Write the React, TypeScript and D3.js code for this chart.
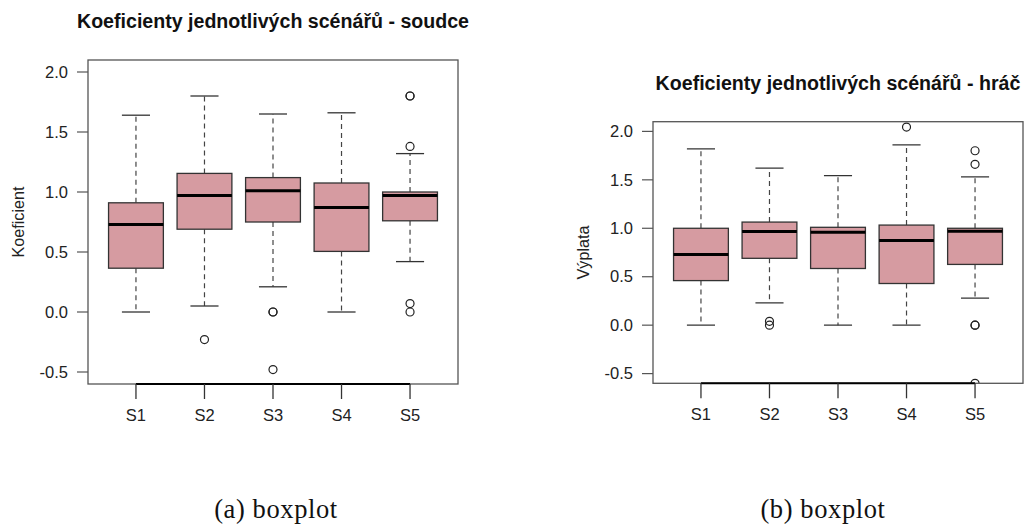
import React from "react";
import * as d3 from "d3";

// Scenario labels shared by both panels
const scenarios = ["S1", "S2", "S3", "S4", "S5"];

// Y axis ticks shared by both panels
const yTicks = [-0.5, 0.0, 0.5, 1.0, 1.5, 2.0];
const yTickLabels = ["-0.5", "0.0", "0.5", "1.0", "1.5", "2.0"];
const yDomain: [number, number] = [-0.6, 2.1];

// Panel (a): judge coefficients
const judgeLow = [0.0, 0.05, 0.21, 0.0, 0.42];
const judgeQ1 = [0.365, 0.69, 0.75, 0.505, 0.76];
const judgeMedian = [0.73, 0.97, 1.01, 0.87, 0.97];
const judgeQ3 = [0.91, 1.155, 1.12, 1.075, 1.0];
const judgeHigh = [1.64, 1.8, 1.65, 1.66, 1.32];
const judgeOutliers = [[], [-0.23], [0.0, 0.0, -0.48], [], [1.8, 1.8, 1.38, 0.07, 0.0]];

// Panel (b): player payoffs
const playerLow = [0.0, 0.23, 0.0, 0.0, 0.28];
const playerQ1 = [0.46, 0.69, 0.585, 0.43, 0.627];
const playerMedian = [0.73, 0.968, 0.96, 0.875, 0.97];
const playerQ3 = [1.0, 1.064, 1.01, 1.033, 1.0];
const playerHigh = [1.82, 1.62, 1.543, 1.86, 1.53];
const playerOutliers = [[], [0.04, 0.0], [], [2.045], [1.8, 1.66, 0.0, 0.0, -0.6]];

type Stats = {
  low: number[];
  q1: number[];
  median: number[];
  q3: number[];
  high: number[];
  outliers: number[][];
};

const FONT = "'Liberation Sans', Arial, Helvetica, sans-serif";
const BOX_FILL = "#d69ba1";

function Panel(props: {
  id: string;
  title: string;
  titleSize: number;
  yLabel: string;
  caption: string;
  stats: Stats;
  left: number;
  right: number;
  top: number;
  bottom: number;
  captionX: number;
}) {
  const { id, title, titleSize, yLabel, caption, stats, left, right, top, bottom, captionX } = props;
  const x = d3.scaleLinear().domain([0.3, 5.7]).range([left, right]);
  const y = d3.scaleLinear().domain(yDomain).range([bottom, top]);
  const boxHalf = x(1.4) - x(1);
  const capHalf = x(1.205) - x(1);
  const cx = (left + right) / 2;
  const cy = (top + bottom) / 2;

  return (
    <g>
      <defs>
        <clipPath id={id}>
          <rect x={left} y={top} width={right - left} height={bottom - top} />
        </clipPath>
      </defs>
      <text
        x={cx}
        y={top - 32}
        textAnchor="middle"
        fontFamily={FONT}
        fontWeight="bold"
        fontSize={titleSize}
        fill="#111"
      >
        {title}
      </text>

      {/* boxes, whiskers, outliers */}
      <g clipPath={`url(#${id})`}>
        {scenarios.map((s, i) => {
          const px = x(i + 1);
          return (
            <g key={s}>
              <line x1={px} x2={px} y1={y(stats.q3[i])} y2={y(stats.high[i])} stroke="#444" strokeWidth={1.2} strokeDasharray="5,4" />
              <line x1={px} x2={px} y1={y(stats.q1[i])} y2={y(stats.low[i])} stroke="#444" strokeWidth={1.2} strokeDasharray="5,4" />
              <line x1={px - capHalf} x2={px + capHalf} y1={y(stats.high[i])} y2={y(stats.high[i])} stroke="#333" strokeWidth={1.3} />
              <line x1={px - capHalf} x2={px + capHalf} y1={y(stats.low[i])} y2={y(stats.low[i])} stroke="#333" strokeWidth={1.3} />
              <rect
                x={px - boxHalf}
                y={y(stats.q3[i])}
                width={2 * boxHalf}
                height={y(stats.q1[i]) - y(stats.q3[i])}
                fill={BOX_FILL}
                stroke="#333"
                strokeWidth={1.3}
              />
              <line x1={px - boxHalf} x2={px + boxHalf} y1={y(stats.median[i])} y2={y(stats.median[i])} stroke="#000" strokeWidth={3} />
              {stats.outliers[i].map((v, j) => (
                <circle key={j} cx={px} cy={y(v)} r={4} fill="none" stroke="#222" strokeWidth={1.2} />
              ))}
            </g>
          );
        })}
      </g>

      {/* frame */}
      <rect x={left} y={top} width={right - left} height={bottom - top} fill="none" stroke="#555" strokeWidth={1.3} />

      {/* y axis */}
      {yTicks.map((t, i) => (
        <g key={t}>
          <line x1={left - 11} x2={left} y1={y(t)} y2={y(t)} stroke="#555" strokeWidth={1.2} />
          <text x={left - 20} y={y(t)} dy="0.35em" textAnchor="end" fontFamily={FONT} fontSize={16.5} fill="#222">
            {yTickLabels[i]}
          </text>
        </g>
      ))}
      <text
        transform={`translate(${left - 70},${cy}) rotate(-90)`}
        textAnchor="middle"
        dy="0.35em"
        fontFamily={FONT}
        fontSize={16.2}
        fill="#222"
      >
        {yLabel}
      </text>

      {/* x axis */}
      <line x1={x(1)} x2={x(5)} y1={bottom} y2={bottom} stroke="#000" strokeWidth={2} />
      {scenarios.map((s, i) => (
        <g key={s}>
          <line x1={x(i + 1)} x2={x(i + 1)} y1={bottom} y2={bottom + 15} stroke="#333" strokeWidth={1.3} />
          <text x={x(i + 1)} y={bottom + 31} dy="0.35em" textAnchor="middle" fontFamily={FONT} fontSize={16.5} fill="#222">
            {s}
          </text>
        </g>
      ))}

      <text
        x={captionX}
        y={518}
        textAnchor="middle"
        fontFamily="'Liberation Serif', 'Times New Roman', serif"
        fontSize={26.5}
        letterSpacing={0.6}
        fill="#111"
      >
        {caption}
      </text>
    </g>
  );
}

export default function App() {
  const judge: Stats = {
    low: judgeLow,
    q1: judgeQ1,
    median: judgeMedian,
    q3: judgeQ3,
    high: judgeHigh,
    outliers: judgeOutliers,
  };
  const player: Stats = {
    low: playerLow,
    q1: playerQ1,
    median: playerMedian,
    q3: playerQ3,
    high: playerHigh,
    outliers: playerOutliers,
  };
  return (
    <svg
      width={1025}
      height={525}
      style={{ position: "absolute", left: 0, top: 0, background: "#fff" }}
    >
      <rect width={1025} height={525} fill="#fff" />
      <Panel
        id="clip-a"
        title="Koeficienty jednotlivých scénářů - soudce"
        titleSize={19.6}
        yLabel="Koeficient"
        caption="(a) boxplot"
        stats={judge}
        left={88}
        right={458}
        top={60}
        bottom={384}
        captionX={276}
      />
      <Panel
        id="clip-b"
        title="Koeficienty jednotlivých scénářů - hráč"
        titleSize={19.6}
        yLabel="Výplata"
        caption="(b) boxplot"
        stats={player}
        left={653}
        right={1023}
        top={121.7}
        bottom={383.3}
        captionX={823}
      />
    </svg>
  );
}
